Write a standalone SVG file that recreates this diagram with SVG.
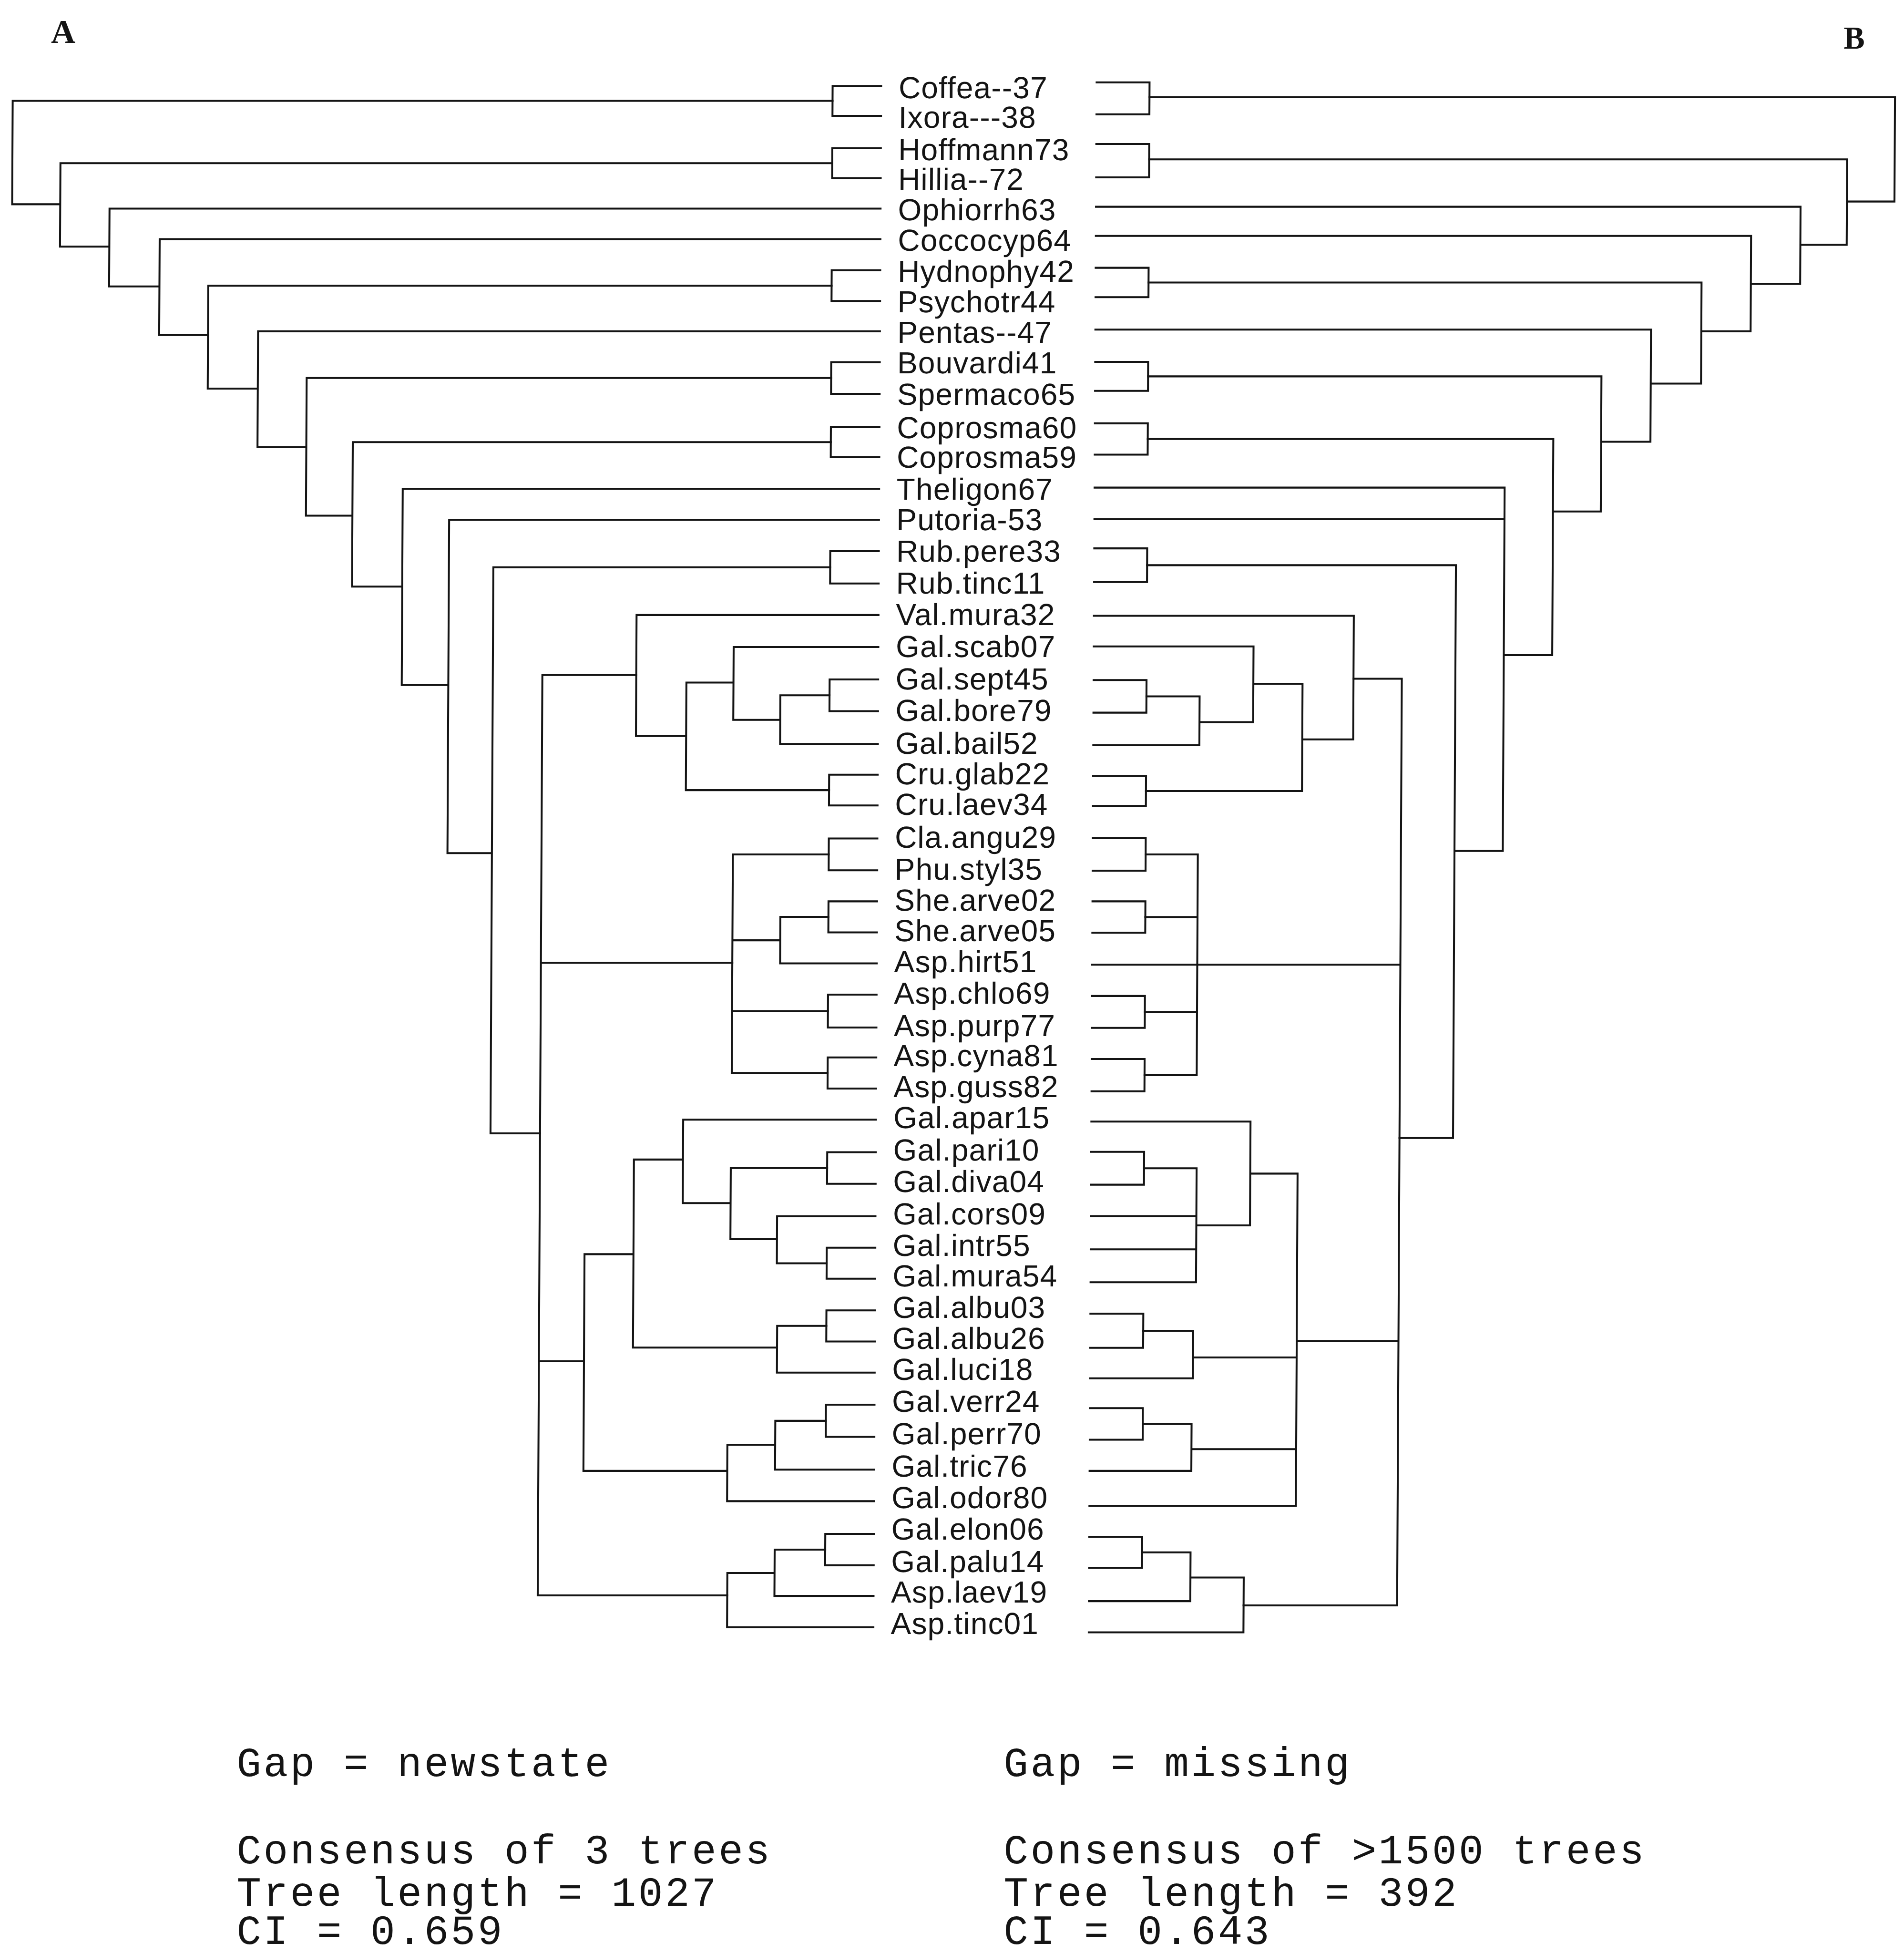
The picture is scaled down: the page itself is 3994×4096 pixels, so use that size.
<svg xmlns="http://www.w3.org/2000/svg" width="3994" height="4096" viewBox="0 0 3994 4096">
<style>
.ln{fill:none;stroke:#141414;stroke-width:1.55;stroke-linejoin:miter;stroke-linecap:square}
.lb{font-family:"Liberation Sans",Arial,sans-serif;font-size:24.5px;letter-spacing:0.45px;fill:#141414}
.mono{font-family:"Liberation Mono","Courier New",monospace;font-size:33px;letter-spacing:1.7px;fill:#141414}
.hd{font-family:"Liberation Serif","Times New Roman",serif;font-weight:bold;fill:#141414}
</style>
<rect width="3994" height="4096" fill="#ffffff"/>
<g transform="scale(2.6121)">
<text class="hd" x="41" y="34.5" font-size="27">A</text>
<text class="hd" x="1480.5" y="39" font-size="25.5">B</text>
<g transform="skewX(-0.29)">
<g id="connectors">
<g id="tree-a">
<path class="ln" d="M708 69H669V93H708M708 119H669V143H708M708 217H669V241.7H708M708 290.8H669V316.2H708M708 343H669V367H708M708 442.5H669V468.5H708M708 545.5H669V571H708M708 622H669V646.7H708M708 673.2H669V698.8H708M708 723.7H669V748.6H708M708 798.6H669V825H708M708 849H669V874H708M708 925.1H669V950.5H708M708 1001.8H669V1026.7H708M708 1052.1H669V1077.1H708M708 1127.8H669V1153.7H708M708 1231.6H669V1256.8H708"/>
<path class="ln" d="M669 81H10.6V164H49.2M669 131H49.2V198H88.8M708 167.5H88.8V230H129.2M708 192H129.2V269H168.4M669 229.4H168.4V312H208.6M708 266H208.6V359H247.8M669 303.5H247.8V414H285.1M669 355H285.1V471H325.4M708 392.5H325.4V550H362.8M708 417.4H362.8V685H398.5M669 455.5H398.5V910H438.3"/>
<path class="ln" d="M513.7 542H438.3V1281H590.5M438.3 773H592M438.3 1093H474.5"/>
<path class="ln" d="M708 493.8H513.7V591H554M591.8 548H554V634.4H669M708 519.5H591.8V578H629.5M669 558.3H629.5V597.3H708"/>
<path class="ln" d="M669 686H592V861.5H669M592 755H630.4M592 811.8H669M669 736.2H630.4V773.5H708"/>
<path class="ln" d="M513.8 1007H474.5V1181H590M553.2 931H513.8V1082H629.5M708 899H553.2V966H591.6M669 937.8H591.6V995H629M708 976.5H629V1014.3H669M669 1064.6H629.5V1102.1H708M628.4 1160H590V1205.3H708M669 1140.8H628.4V1180H708"/>
<path class="ln" d="M628.4 1263H590.5V1306.5H708M669 1244.2H628.4V1281.4H708"/>
</g>
<g id="tree-b">
<path class="ln" d="M881 66.1H923.5V91.8H881M881 115.6H923.5V142.4H881M881 215H923.5V238.6H881M881 290.6H923.5V313.8H881M881 339.9H923.5V365H881M881 440.3H923.5V467.3H881M881 546H923.5V572.2H881M881 623.1H923.5V647.1H881M881 673H923.5V699.1H881M881 723.7H923.5V748.9H881M881 799.7H923.5V825.3H881M881 850.3H923.5V876.2H881M881 924.8H923.5V951.2H881M881 1054.8H923.5V1082.2H881M881 1130.6H923.5V1156H881M881 1234H923.5V1258.8H881"/>
<path class="ln" d="M923.5 78H1522.2V161.8H1484M923.5 128H1484V196.6H1446.8M881 166H1446.8V228H1407.2M881 189.4H1407.2V266H1367.6M923.5 226.8H1367.6V308H1327.2M881 264.6H1327.2V354.7H1287.6M923.5 302.2H1287.6V410.7H1249.2M923.5 352.5H1249.2V526H1210.3M881 391.5H1210.3V683.3H1171.5M881 416.8H1210.3M923.5 453.8H1171.5V913.7H1128.5"/>
<path class="ln" d="M1089.7 545H1128.5V1289H1005.2M881 774.6H1128.5M1128.5 1076.7H1046.8"/>
<path class="ln" d="M881 494.4H1089.7V593.7H1048.8M1009.3 549H1048.8V635.1H923.5M881 519H1009.3V579.8H966.2M923.5 559.1H966.2V598.4H881"/>
<path class="ln" d="M923.5 686H965.4V863.3H923.5M923.5 736.3H965.4M923.5 812.5H965.4"/>
<path class="ln" d="M1008.8 942.3H1046.8V1209.1H881M1046.8 1089.9H963.6M1046.8 1163.5H962.7M881 900.5H1008.8V983.9H965.7M923.5 938H965.7V1029.5H881M881 976.4H965.7M881 1003.1H965.7M923.5 1068.5H963.6V1106.7H881M923.5 1143.3H962.7V1181H881"/>
<path class="ln" d="M962.4 1266.6H1005.2V1310.6H881M923.5 1246.4H962.4V1285.6H881"/>
</g>
</g>
<g id="leaves">
<g id="t01"><text class="lb" x="722" y="78.8">Coffea--37</text></g>
<g id="t02"><text class="lb" x="722" y="102.7">Ixora---38</text></g>
<g id="t03"><text class="lb" x="722" y="128.6">Hoffmann73</text></g>
<g id="t04"><text class="lb" x="722" y="152.5">Hillia--72</text></g>
<g id="t05"><text class="lb" x="722" y="176.9">Ophiorrh63</text></g>
<g id="t06"><text class="lb" x="722" y="201.3">Coccocyp64</text></g>
<g id="t07"><text class="lb" x="722" y="226.2">Hydnophy42</text></g>
<g id="t08"><text class="lb" x="722" y="250.9">Psychotr44</text></g>
<g id="t09"><text class="lb" x="722" y="275.1">Pentas--47</text></g>
<g id="t10"><text class="lb" x="722" y="299.8">Bouvardi41</text></g>
<g id="t11"><text class="lb" x="722" y="325.1">Spermaco65</text></g>
<g id="t12"><text class="lb" x="722" y="351.8">Coprosma60</text></g>
<g id="t13"><text class="lb" x="722" y="375.7">Coprosma59</text></g>
<g id="t14"><text class="lb" x="722" y="401.1">Theligon67</text></g>
<g id="t15"><text class="lb" x="722" y="425.9">Putoria-53</text></g>
<g id="t16"><text class="lb" x="722" y="450.9">Rub.pere33</text></g>
<g id="t17"><text class="lb" x="722" y="476.8">Rub.tinc11</text></g>
<g id="t18"><text class="lb" x="722" y="502">Val.mura32</text></g>
<g id="t19"><text class="lb" x="722" y="527.6">Gal.scab07</text></g>
<g id="t20"><text class="lb" x="722" y="553.6">Gal.sept45</text></g>
<g id="t21"><text class="lb" x="722" y="579">Gal.bore79</text></g>
<g id="t22"><text class="lb" x="722" y="605.2">Gal.bail52</text></g>
<g id="t23"><text class="lb" x="722" y="629.8">Cru.glab22</text></g>
<g id="t24"><text class="lb" x="722" y="654.4">Cru.laev34</text></g>
<g id="t25"><text class="lb" x="722" y="680.8">Cla.angu29</text></g>
<g id="t26"><text class="lb" x="722" y="706.3">Phu.styl35</text></g>
<g id="t27"><text class="lb" x="722" y="731.1">She.arve02</text></g>
<g id="t28"><text class="lb" x="722" y="755.9">She.arve05</text></g>
<g id="t29"><text class="lb" x="722" y="780.7">Asp.hirt51</text></g>
<g id="t30"><text class="lb" x="722" y="805.7">Asp.chlo69</text></g>
<g id="t31"><text class="lb" x="722" y="832">Asp.purp77</text></g>
<g id="t32"><text class="lb" x="722" y="856">Asp.cyna81</text></g>
<g id="t33"><text class="lb" x="722" y="880.9">Asp.guss82</text></g>
<g id="t34"><text class="lb" x="722" y="905.8">Gal.apar15</text></g>
<g id="t35"><text class="lb" x="722" y="931.8">Gal.pari10</text></g>
<g id="t36"><text class="lb" x="722" y="957.1">Gal.diva04</text></g>
<g id="t37"><text class="lb" x="722" y="983">Gal.cors09</text></g>
<g id="t38"><text class="lb" x="722" y="1008.2">Gal.intr55</text></g>
<g id="t39"><text class="lb" x="722" y="1033">Gal.mura54</text></g>
<g id="t40"><text class="lb" x="722" y="1058.3">Gal.albu03</text></g>
<g id="t41"><text class="lb" x="722" y="1083.2">Gal.albu26</text></g>
<g id="t42"><text class="lb" x="722" y="1108.1">Gal.luci18</text></g>
<g id="t43"><text class="lb" x="722" y="1133.7">Gal.verr24</text></g>
<g id="t44"><text class="lb" x="722" y="1159.6">Gal.perr70</text></g>
<g id="t45"><text class="lb" x="722" y="1185.8">Gal.tric76</text></g>
<g id="t46"><text class="lb" x="722" y="1211">Gal.odor80</text></g>
<g id="t47"><text class="lb" x="722" y="1236">Gal.elon06</text></g>
<g id="t48"><text class="lb" x="722" y="1262.3">Gal.palu14</text></g>
<g id="t49"><text class="lb" x="722" y="1286.8">Asp.laev19</text></g>
<g id="t50"><text class="lb" x="722" y="1311.8">Asp.tinc01</text></g>
</g>
</g>
<g id="caption-a">
<text class="mono" x="190" y="1426" xml:space="preserve">Gap = newstate</text>
<text class="mono" x="190" y="1496" xml:space="preserve">Consensus of 3 trees</text>
<text class="mono" x="190" y="1530" xml:space="preserve">Tree length = 1027</text>
<text class="mono" x="190" y="1561" xml:space="preserve">CI = 0.659</text>
</g>
<g id="caption-b">
<text class="mono" x="806" y="1426" xml:space="preserve">Gap = missing</text>
<text class="mono" x="806" y="1496" xml:space="preserve">Consensus of &gt;1500 trees</text>
<text class="mono" x="806" y="1530" xml:space="preserve">Tree length = 392</text>
<text class="mono" x="806" y="1561" xml:space="preserve">CI = 0.643</text>
</g>
</g>
</svg>
